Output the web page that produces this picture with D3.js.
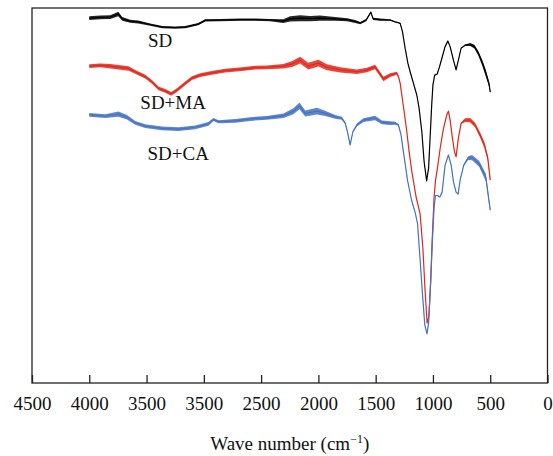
<!DOCTYPE html>
<html>
<head>
<meta charset="utf-8">
<script src="https://cdn.jsdelivr.net/npm/d3@7"></script>
<style>
  body { margin: 0; background: #fff; }
  svg text { font-family: "Liberation Serif", "DejaVu Serif", serif; }
</style>
</head>
<body>
<div id="chart"></div>
<script>
// x axis ticks (the original figure prints "3500" twice)
var tickValues = [4500, 4000, 3500, 3000, 2500, 2000, 1500, 1000, 500, 0];
var tickLabels = ["4500", "4000", "3500", "3500", "2500", "2000", "1500", "1000", "500", "0"];

// spectra: [wave number, transmittance (a.u.), trace fuzz half-width]
var sd = [
  [4000,97.3,0.5],[3904,97.5,0.5],[3817,97.6,0.5],[3747,98.4,0.6],[3712,97.1,0.5],[3643,96.5,0.4],
  [3573,96.3,0.4],[3468,95.6,0.3],[3363,94.9,0.3],[3250,94.8,0.3],[3163,94.9,0.3],[3049,95.7,0.3],
  [2988,96.7,0.3],[2857,96.8,0.3],[2683,96.9,0.3],[2552,96.9,0.3],[2421,96.8,0.3],[2307,96.5,0.5],
  [2246,97.1,0.7],[2159,97.3,0.8],[2072,97.2,0.7],[1985,97.3,0.7],[1854,97.1,0.5],[1749,96.9,0.4],
  [1679,96.4,0.4],[1635,96.0,0.3],[1583,96.8,0.3],[1542,98.9,0.2],[1522,97.1,0.3],[1461,96.9,0.3],
  [1374,96.8,0.2],[1330,96.3,0.1],[1304,96.1,0.1],[1286,95.9,0.1],[1266,93.7,0.1],[1243,89.3,0.1],
  [1219,85.3,0.1],[1199,83.0,0.1],[1170,79.9,0.1],[1141,76.8,0.1],[1121,73.3,0.1],[1097,67.0,0.1],
  [1077,59.0,0.1],[1055,53.9,0.1],[1038,57.3,0.1],[1025,65.3,0.1],[1011,74.1,0.1],[1000,79.5,0.1],
  [985,82.1,0.1],[963,82.4,0.1],[943,84.3,0.1],[922,86.6,0.1],[894,89.7,0.1],[870,91.2,0.1],
  [850,89.7,0.1],[821,86.1,0.1],[798,83.5,0.1],[778,86.1,0.1],[754,89.3,0.1],[719,90.1,0.2],
  [675,90.3,0.4],[638,89.7,0.5],[603,87.9,0.6],[568,85.3,0.8],[538,82.6,0.9],[510,79.7,0.7],
  [500,77.6,0.4]
];
var sdMa = [
  [4000,84.5,0.5],[3904,84.7,0.5],[3817,84.5,0.6],[3657,83.9,0.6],[3599,83.0,0.5],[3512,81.7,0.5],
  [3453,80.3,0.5],[3396,78.6,0.5],[3337,77.9,0.5],[3285,77.1,0.5],[3235,78.1,0.5],[3163,79.9,0.5],
  [3104,81.3,0.5],[3032,82.1,0.5],[2930,82.7,0.5],[2814,83.3,0.5],[2668,83.7,0.5],[2552,84.1,0.5],
  [2450,84.2,0.5],[2305,84.5,0.6],[2229,85.1,0.8],[2159,86.1,0.9],[2089,84.5,0.9],[1999,85.3,0.9],
  [1926,84.2,0.8],[1810,83.5,0.7],[1664,83.0,0.6],[1577,83.5,0.6],[1505,84.3,0.6],[1432,81.1,0.6],
  [1374,82.1,0.5],[1315,82.6,0.4],[1301,81.7,0.2],[1286,79.9,0.15],[1272,76.8,0.1],[1251,72.3,0.1],
  [1228,67.0,0.1],[1208,61.7,0.1],[1184,56.3,0.1],[1147,49.6,0.1],[1112,45.1,0.1],[1088,36.0,0.1],
  [1068,24.3,0.1],[1051,16.0,0.1],[1035,17.9,0.1],[1020,26.9,0.1],[1007,37.9,0.1],[990,49.6,0.1],
  [978,53.9,0.1],[957,58.1,0.1],[937,62.6,0.1],[908,67.9,0.1],[879,71.5,0.15],[865,72.5,0.2],
  [850,70.1,0.2],[830,65.3,0.1],[812,61.7,0.1],[798,60.3,0.1],[778,65.3,0.1],[754,69.3,0.2],
  [719,70.1,0.5],[675,70.1,0.6],[632,68.8,0.6],[588,66.1,0.7],[551,63.5,0.8],[521,59.9,0.7],
  [500,54.1,0.4]
];
var sdCa = [
  [4000,71.5,0.5],[3861,71.2,0.5],[3745,71.7,0.7],[3671,70.9,0.6],[3599,69.4,0.5],[3512,68.5,0.5],
  [3366,67.9,0.5],[3221,67.7,0.5],[3075,68.2,0.5],[2959,69.1,0.5],[2916,70.3,0.4],[2872,69.7,0.4],
  [2726,69.9,0.5],[2595,70.4,0.5],[2450,70.7,0.5],[2305,71.3,0.6],[2218,72.5,0.8],[2165,73.9,0.9],
  [2115,71.9,0.8],[2013,72.5,0.9],[1941,71.9,0.7],[1854,71.0,0.5],[1795,70.6,0.4],[1766,69.3,0.3],
  [1746,67.0,0.2],[1723,63.5,0.2],[1699,67.0,0.2],[1664,68.8,0.4],[1607,70.1,0.5],[1505,70.7,0.6],
  [1446,69.5,0.5],[1374,69.3,0.5],[1330,69.3,0.4],[1301,68.8,0.2],[1278,66.1,0.1],[1258,61.7,0.1],
  [1237,57.3,0.1],[1221,53.9,0.1],[1187,48.8,0.1],[1154,45.3,0.1],[1134,42.4,0.1],[1109,31.5,0.1],
  [1088,22.3,0.1],[1071,15.5,0.1],[1052,13.1,0.1],[1038,16.0,0.1],[1020,26.9,0.1],[1005,37.9,0.1],
  [990,46.9,0.1],[978,50.0,0.1],[961,50.0,0.1],[940,49.6,0.1],[920,50.9,0.1],[894,58.1,0.1],
  [865,60.8,0.1],[841,58.1,0.1],[821,53.7,0.1],[798,50.9,0.1],[780,50.4,0.1],[763,54.1,0.1],
  [731,58.1,0.2],[693,60.0,0.5],[658,60.1,0.7],[597,58.5,0.8],[538,54.8,1.0],[500,46.1,0.6]
];

var seriesNames = ["SD", "SD+MA", "SD+CA"];
var seriesColors = ["#000000", "#e2281c", "#4472c4"];
// label anchor points in data units [wave number, transmittance]
var labelPos = [[3381, 89.6], [3268, 73.1], [3224, 59.5]];

var width = 553, height = 456;
var plotLeft = 32, plotRight = 547.5, plotTop = 8, plotBottom = 383;

var svg = d3.select("#chart").append("svg")
    .attr("width", width)
    .attr("height", height);

var x = d3.scaleLinear().domain([4500, 0]).range([plotLeft, plotRight]);
var y = d3.scaleLinear().domain([0, 100]).range([plotBottom, plotTop]);

// frame
svg.append("rect")
    .attr("x", plotLeft).attr("y", plotTop)
    .attr("width", plotRight - plotLeft).attr("height", plotBottom - plotTop)
    .attr("fill", "none")
    .attr("stroke", "#222")
    .attr("stroke-width", 1.3);

// bottom axis, ticks pointing inward
var xAxis = svg.append("g")
    .attr("transform", "translate(0," + plotBottom + ")")
    .call(d3.axisBottom(x)
      .tickValues(tickValues)
      .tickFormat(function(d, i) { return tickLabels[i]; })
      .tickSizeInner(-8)
      .tickSizeOuter(0)
      .tickPadding(14));
xAxis.select(".domain").remove();
xAxis.selectAll(".tick line").attr("stroke", "#222").attr("stroke-width", 1.3);
xAxis.selectAll(".tick text")
    .attr("fill", "#111")
    .style("font-family", "'Liberation Serif', serif")
    .style("font-size", "19px");

// axis title
var title = svg.append("text")
    .attr("x", (plotLeft + plotRight) / 2)
    .attr("y", 450)
    .attr("text-anchor", "middle")
    .attr("fill", "#111")
    .style("font-size", "19px");
title.append("tspan").text("Wave number (cm");
title.append("tspan").attr("dy", -7).style("font-size", "12px").text("\u22121");
title.append("tspan").attr("dy", 7).text(")");

// spectra
var series = [sd, sdMa, sdCa];
var line = d3.line()
    .x(function(d) { return x(d[0]); })
    .y(function(d) { return y(d[1]); });
var band = d3.area()
    .x(function(d) { return x(d[0]); })
    .y0(function(d) { return y(d[1] - d[2]); })
    .y1(function(d) { return y(d[1] + d[2]); });

series.forEach(function(s, i) {
  svg.append("path")
    .datum(s)
    .attr("d", band)
    .attr("fill", seriesColors[i])
    .attr("opacity", 0.85);
  svg.append("path")
    .datum(s)
    .attr("d", line)
    .attr("fill", "none")
    .attr("stroke", seriesColors[i])
    .attr("stroke-width", 1.2)
    .attr("stroke-linejoin", "round");
});

// series labels
svg.selectAll(".series-label")
  .data(seriesNames)
  .enter().append("text")
    .attr("class", "series-label")
    .attr("x", function(d, i) { return x(labelPos[i][0]); })
    .attr("y", function(d, i) { return y(labelPos[i][1]); })
    .attr("text-anchor", "middle")
    .attr("fill", "#111")
    .style("font-size", "19px")
    .text(function(d) { return d; });
</script>
</body>
</html>
